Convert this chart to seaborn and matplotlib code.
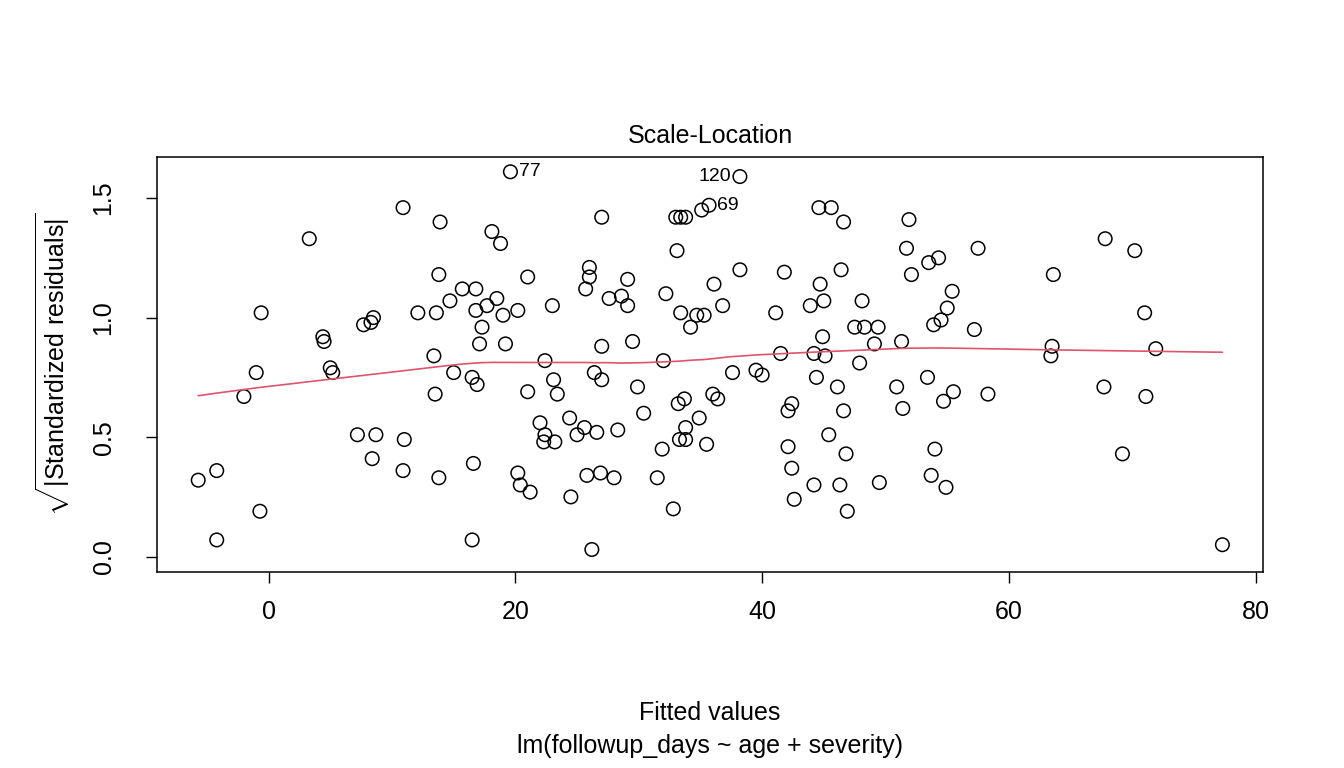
import numpy as np
import matplotlib
matplotlib.use("Agg")
import matplotlib.pyplot as plt
import seaborn as sns
import pandas as pd

fitted = [-5.7,-4.2,-4.2,-2.0,-1.0,-0.7,-0.6,3.3,4.4,4.5,5.0,5.2,7.2,7.7,8.3,8.5,8.4,8.7,10.9,11.0,10.9,12.1,13.4,13.5,13.6,13.8,13.9,13.8,14.7,15.0,15.7,16.5,16.6,16.5,16.8,16.8,16.9,17.1,17.3,17.7,18.1,18.5,18.8,19.0,19.2,19.6,20.2,20.2,20.4,21.0,21.0,21.2,22.0,22.3,22.4,22.4,23.0,23.1,23.2,23.4,24.4,24.5,25.0,25.6,25.7,25.8,26.0,26.0,26.2,26.4,26.6,26.9,27.0,27.0,27.0,27.6,28.0,28.3,28.6,29.1,29.1,29.5,29.9,30.4,31.5,31.9,32.0,32.2,32.8,33.0,33.1,33.2,33.3,33.4,33.4,33.7,33.8,33.8,33.8,34.2,34.7,34.9,35.1,35.3,35.5,35.7,36.0,36.1,36.4,36.8,37.6,38.2,38.2,39.5,40.0,41.1,41.5,41.8,42.1,42.1,42.4,42.4,42.6,43.9,44.2,44.2,44.4,44.6,44.7,44.9,45.0,45.1,45.4,45.6,46.1,46.3,46.4,46.6,46.6,46.8,46.9,47.5,47.9,48.1,48.3,49.1,49.4,49.5,50.9,51.3,51.4,51.7,51.9,52.1,53.4,53.5,53.7,53.9,54.0,54.3,54.5,54.7,54.9,55.0,55.4,55.5,57.2,57.5,58.3,63.4,63.5,63.6,67.7,67.8,69.2,70.2,71.0,71.1,71.9,77.3]
sqrt_std_resid = [0.32,0.36,0.07,0.67,0.77,0.19,1.02,1.33,0.92,0.90,0.79,0.77,0.51,0.97,0.98,1.00,0.41,0.51,1.46,0.49,0.36,1.02,0.84,0.68,1.02,1.18,1.40,0.33,1.07,0.77,1.12,0.75,0.39,0.07,1.12,1.03,0.72,0.89,0.96,1.05,1.36,1.08,1.31,1.01,0.89,1.61,1.03,0.35,0.30,1.17,0.69,0.27,0.56,0.48,0.82,0.51,1.05,0.74,0.48,0.68,0.58,0.25,0.51,0.54,1.12,0.34,1.21,1.17,0.03,0.77,0.52,0.35,0.88,1.42,0.74,1.08,0.33,0.53,1.09,1.16,1.05,0.90,0.71,0.60,0.33,0.45,0.82,1.10,0.20,1.42,1.28,0.64,0.49,1.42,1.02,0.66,1.42,0.49,0.54,0.96,1.01,0.58,1.45,1.01,0.47,1.47,0.68,1.14,0.66,1.05,0.77,1.59,1.20,0.78,0.76,1.02,0.85,1.19,0.61,0.46,0.64,0.37,0.24,1.05,0.85,0.30,0.75,1.46,1.14,0.92,1.07,0.84,0.51,1.46,0.71,0.30,1.20,1.40,0.61,0.43,0.19,0.96,0.81,1.07,0.96,0.89,0.96,0.31,0.71,0.90,0.62,1.29,1.41,1.18,0.75,1.23,0.34,0.97,0.45,1.25,0.99,0.65,0.29,1.04,1.11,0.69,0.95,1.29,0.68,0.84,0.88,1.18,0.71,1.33,0.43,1.28,1.02,0.67,0.87,0.05]
labels = {"77": (19.6, 1.61, "right"), "120": (38.2, 1.59, "left"), "69": (35.7, 1.47, "right")}

def lowess(x, y, f=2/3, it=3):
    x = np.asarray(x); y = np.asarray(y); n = len(x)
    r = int(np.ceil(f * n))
    h = np.array([np.sort(np.abs(x - x[i]))[r] for i in range(n)])
    w = np.clip(np.abs((x[:, None] - x[None, :]) / h[:, None]), 0, 1)
    w = (1 - w ** 3) ** 3
    delta = np.ones(n); yest = np.zeros(n)
    for _ in range(it + 1):
        for i in range(n):
            wi = delta * w[i]
            A = np.array([[wi.sum(), (wi * x).sum()], [(wi * x).sum(), (wi * x * x).sum()]])
            b = np.array([(wi * y).sum(), (wi * y * x).sum()])
            beta = np.linalg.solve(A, b)
            yest[i] = beta[0] + beta[1] * x[i]
        res = y - yest
        s = np.median(np.abs(res))
        delta = np.clip(res / (6 * s), -1, 1)
        delta = (1 - delta ** 2) ** 2
    return yest

df = pd.DataFrame({"fitted": fitted, "resid": sqrt_std_resid}).sort_values("fitted")
df["smooth"] = lowess(df["fitted"].values, df["resid"].values)

sns.set_style("white")
plt.rcParams['font.family'] = ['Liberation Sans', 'DejaVu Sans']
plt.rcParams['mathtext.fontset'] = 'custom'
plt.rcParams['mathtext.rm'] = 'Liberation Sans'
for k in ['text.color', 'axes.labelcolor', 'xtick.color', 'ytick.color']:
    plt.rcParams[k] = 'black'

fig = plt.figure(figsize=(13.44, 7.68), dpi=100)
ax = fig.add_axes([0.117, 0.255, 0.823, 0.541])
sns.scatterplot(data=df, x="fitted", y="resid", ax=ax, s=95, facecolor="none",
                edgecolor="black", linewidth=1.1)
sns.lineplot(data=df, x="fitted", y="smooth", ax=ax, color="#DF536B", linewidth=1.2, estimator=None)
for t, (x, y, side) in labels.items():
    if side == "right":
        ax.annotate(t, (x, y), xytext=(6, 0), textcoords="offset points", ha="left", va="center", fontsize=14)
    else:
        ax.annotate(t, (x, y), xytext=(-6, 0), textcoords="offset points", ha="right", va="center", fontsize=14)

xr = max(fitted) - min(fitted); yr = max(sqrt_std_resid) - min(sqrt_std_resid)
ax.set_xlim(min(fitted) - 0.04 * xr, max(fitted) + 0.04 * xr)
ax.set_ylim(min(sqrt_std_resid) - 0.06 * yr, max(sqrt_std_resid) + 0.04 * yr)
ax.set_xticks([0, 20, 40, 60, 80])
ax.set_yticks([0.0, 0.5, 1.0, 1.5])
ax.set_yticklabels(["0.0", "0.5", "1.0", "1.5"], rotation=90, va="center")
ax.tick_params(axis="x", direction="out", length=8, width=1, labelsize=18, pad=12, bottom=True)
ax.tick_params(axis="y", direction="out", length=8, width=1, labelsize=18, pad=22, left=True)
for s in ax.spines.values():
    s.set_color("black"); s.set_linewidth(1.1)
ax.set_xlabel("")
ax.set_ylabel(r"$\sqrt{|\mathrm{Standardized\ residuals}|}$", fontsize=18, labelpad=14)
ax.set_title("Scale-Location", fontsize=18, pad=10)
fig.text(0.528, 0.062, "Fitted values", ha="center", fontsize=18)
fig.text(0.528, 0.020, "lm(followup_days ~ age + severity)", ha="center", fontsize=18)
fig.savefig("out.png", dpi=100)
